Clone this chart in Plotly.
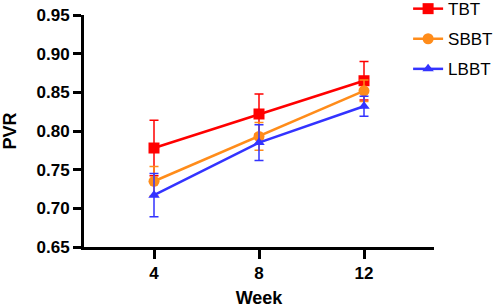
import plotly.graph_objects as go

weeks = [4, 8, 12]
tbt = [0.778, 0.822, 0.865]
tbt_err = [0.036, 0.026, 0.025]
sbbt = [0.735, 0.793, 0.852]
sbbt_err = [0.019, 0.018, 0.014]
lbbt = [0.717, 0.785, 0.832]
lbbt_err = [0.028, 0.023, 0.013]

series = [
    ("TBT", tbt, tbt_err, "#FF0000", "square", 11),
    ("SBBT", sbbt, sbbt_err, "#FF8C1A", "circle", 11),
    ("LBBT", lbbt, lbbt_err, "#3333FF", "triangle-up", 10),
]

fig = go.Figure()
for i, (name, ys, errs, col, sym, sz) in enumerate(series):
    fig.add_trace(go.Scatter(
        x=weeks, y=ys, name=name, mode="lines+markers",
        line=dict(color=col, width=2.5),
        marker=dict(color=col, symbol=sym, size=sz),
        error_y=dict(type="data", array=errs, visible=True, color=col,
                     thickness=1.5, width=4.5),
        legendgroup=name,
    ))

ff = "Liberation Sans, Arial, sans-serif"
fig.update_layout(
    width=500, height=308,
    margin=dict(l=84, r=66, t=15, b=61, autoexpand=False),
    plot_bgcolor="white", paper_bgcolor="white",
    font=dict(family=ff, color="black"),
    showlegend=True,
    legend=dict(x=0.926, xanchor="left", y=1.103, yanchor="top",
                font=dict(size=17, family=ff),
                tracegroupgap=5, bgcolor="rgba(0,0,0,0)"),
    xaxis=dict(range=[4/3, 44/3], tickvals=weeks, ticktext=["4", "8", "12"],
               showline=True, linecolor="black", linewidth=3,
               ticks="outside", ticklen=9, tickwidth=3, tickcolor="black",
               showgrid=False, zeroline=False, automargin=False,
               ticklabeloverflow="allow",
               tickfont=dict(size=17, family=ff, weight="bold"),
               title=dict(text="<b>Week</b>", font=dict(size=18), standoff=17)),
    yaxis=dict(range=[0.65, 0.95], tickvals=[0.65, 0.70, 0.75, 0.80, 0.85, 0.90, 0.95],
               ticktext=["0.65", "0.70", "0.75", "0.80", "0.85", "0.90", "0.95"],
               showline=True, linecolor="black", linewidth=3,
               ticks="outside", ticklen=8, tickwidth=3, tickcolor="black",
               showgrid=False, zeroline=False, automargin=False,
               ticklabeloverflow="allow",
               tickfont=dict(size=17, family=ff, weight="bold"),
               title=dict(text="<b>PVR</b>", font=dict(size=18), standoff=28)),
)

fig.write_html("out.html", config={"displayModeBar": False},
               post_script="document.body.style.margin='0';")
